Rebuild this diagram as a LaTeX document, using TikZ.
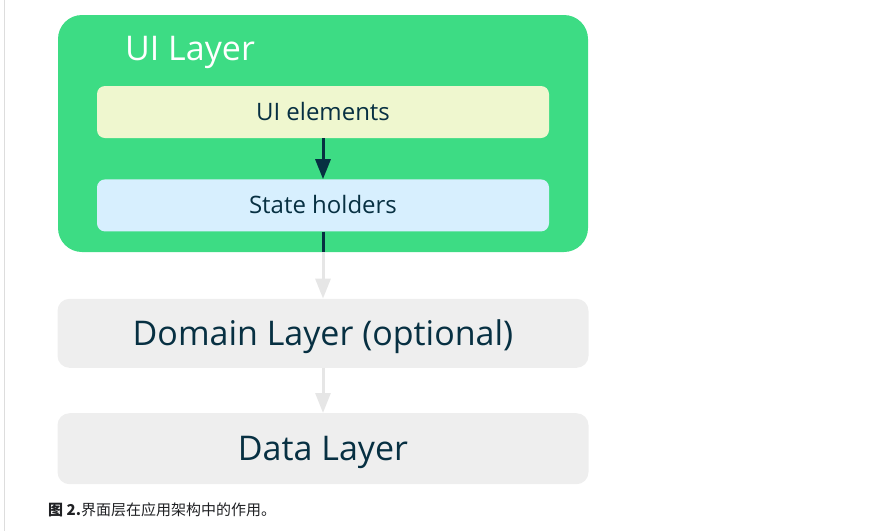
\documentclass[tikz,border=0pt]{standalone}
\usepackage{fontspec}
\setmainfont{Open Sans}
\newfontfamily\cjk{Noto Sans CJK SC}
\usetikzlibrary{positioning,arrows.meta}

\definecolor{droidgreen}{HTML}{3DDC84}
\definecolor{droidnavy}{HTML}{073042}
\definecolor{elemfill}{HTML}{EFF7CF}
\definecolor{holdfill}{HTML}{D7EFFE}
\definecolor{layerfill}{HTML}{EEEEEE}
\definecolor{flowgray}{HTML}{E6E6E6}
\definecolor{rulegray}{HTML}{DDDDDD}

\begin{document}
\begin{tikzpicture}[x=1pt, y=-1pt,
    box/.style={rectangle, inner sep=0pt, text=droidnavy, text depth=0pt},
    inner/.style={box, rounded corners=8pt, minimum width=452pt, minimum height=52pt,
      text height=17pt, font=\fontsize{24}{28}\selectfont},
    layer/.style={box, fill=layerfill, rounded corners=12pt, minimum width=531pt,
      text height=24.5pt, font=\fontsize{34}{40}\selectfont},
    flow/.style={line width=3pt, -{Triangle[length=20pt,width=15pt]}}]
  \useasboundingbox (0,0) rectangle (887,531);
  \draw[rulegray, line width=1pt] (4,0) -- (4,531);

  \node[box, fill=droidgreen, rounded corners=24pt, minimum width=530pt,
    minimum height=237pt] (ui) at (323,133.5) {};
  \node[anchor=base west, inner sep=0pt, text=white,
    font=\fontsize{34}{40}\selectfont] (uititle) at (125,60) {UI Layer};
  \node[inner, fill=elemfill] (elements) at (323,112) {UI elements};
  \node[inner, fill=holdfill, below=41pt of elements] (holders) {State holders};
  \node[layer, minimum height=69pt, below=67pt of holders] (domain) {Domain Layer (optional)};
  \node[layer, minimum height=71pt, below=45pt of domain] (data) {Data Layer};

  \draw[flow, droidnavy] (elements) -- (holders);
  \draw[flow, flowgray] (holders) -- (domain);
  \draw[droidnavy, line width=3pt] (holders.south) -- (holders.south |- ui.south);
  \draw[flow, flowgray] (domain) -- (data);

  \node[anchor=west, inner sep=0pt, text={rgb,255:red,32;green,33;blue,36},
    font=\cjk\fontsize{15}{18}\selectfont] (caption) at (48,510)
    {\textbf{图 2.}界面层在应用架构中的作用。};
\end{tikzpicture}
\end{document}
